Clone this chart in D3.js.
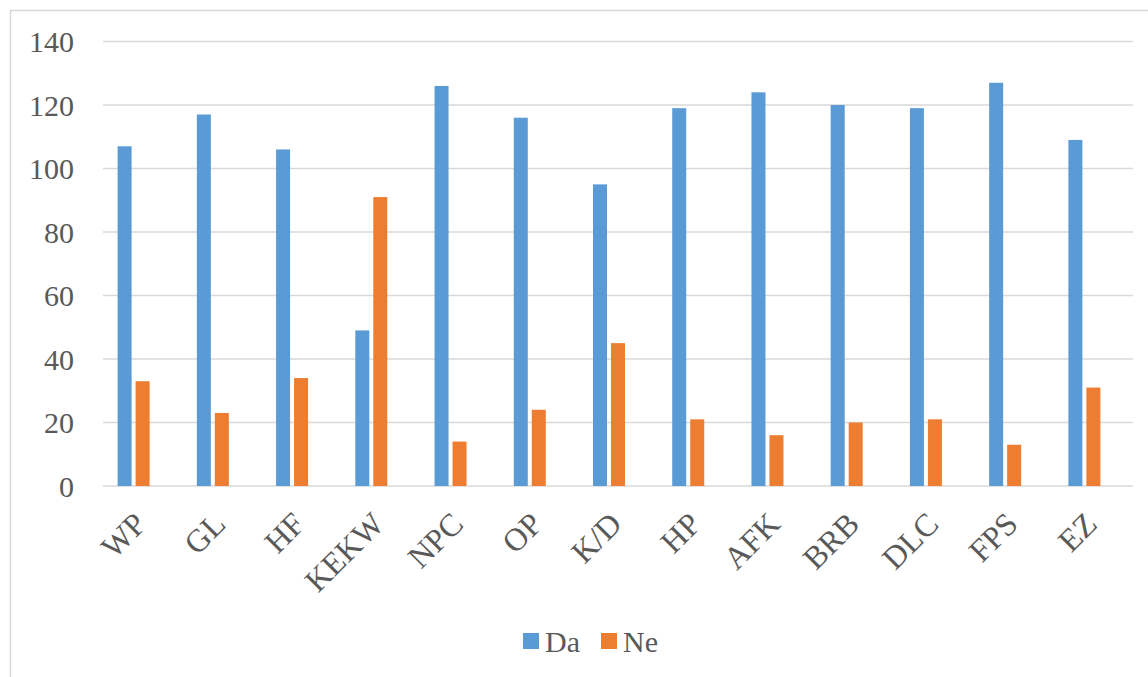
<!DOCTYPE html>
<html>
<head>
<meta charset="utf-8">
<script src="https://cdn.jsdelivr.net/npm/d3@7"></script>
<style>
  body { margin: 0; background: #fff; }
</style>
</head>
<body>
<div id="vis"></div>
<script>
var width = 1148, height = 677;
var FONT = "'Liberation Serif', 'DejaVu Serif', serif";

// Data
var categories = ["WP", "GL", "HF", "KEKW", "NPC", "OP", "K/D", "HP", "AFK", "BRB", "DLC", "FPS", "EZ"];
var seriesNames = ["Da", "Ne"];
var daValues = [107, 117, 106, 49, 126, 116, 95, 119, 124, 120, 119, 127, 109];
var neValues = [33, 23, 34, 91, 14, 24, 45, 21, 16, 20, 21, 13, 31];
var yTicks = [0, 20, 40, 60, 80, 100, 120, 140];
var colors = ["#5b9bd5", "#ed7d31"];

var rows = categories.map(function(c, i) {
    return {cat: c, values: [daValues[i], neValues[i]]};
});

var svg = d3.select("#vis").append("svg")
    .attr("width", width)
    .attr("height", height)
    .attr("font-family", FONT);

// outer chart border
svg.append("rect")
    .attr("x", 10.5).attr("y", 10.5)
    .attr("width", 1150).attr("height", 700)
    .attr("fill", "none")
    .attr("stroke", "#d9d9d9")
    .attr("stroke-width", 1.5);

var gridLeft = 103, gridRight = 1133;

var y = d3.scaleLinear()
    .domain([0, 140])
    .range([486, 41.5]);

var x = d3.scaleBand()
    .domain(categories)
    .range([94, 1124]);

var xInner = d3.scaleBand()
    .domain(seriesNames)
    .range([-16, 16])
    .paddingInner(0.222);

// gridlines
svg.append("g").selectAll("line")
    .data(yTicks)
    .enter().append("line")
    .attr("x1", gridLeft).attr("x2", gridRight)
    .attr("y1", function(d) { return y(d); })
    .attr("y2", function(d) { return y(d); })
    .attr("stroke", "#d9d9d9")
    .attr("stroke-width", 1.5);

// y tick labels
svg.append("g").selectAll("text")
    .data(yTicks)
    .enter().append("text")
    .attr("x", 74)
    .attr("y", function(d) { return y(d); })
    .attr("dy", "0.35em")
    .attr("text-anchor", "end")
    .attr("font-family", FONT)
    .attr("font-size", 30)
    .attr("fill", "#595959")
    .text(function(d) { return d; });

// bars
var groups = svg.append("g").selectAll("g")
    .data(rows)
    .enter().append("g")
    .attr("transform", function(d) {
        return "translate(" + (x(d.cat) + x.bandwidth() / 2) + ",0)";
    });

groups.selectAll("rect")
    .data(function(d) { return d.values.map(function(v, i) { return {name: seriesNames[i], value: v, i: i}; }); })
    .enter().append("rect")
    .attr("x", function(d) { return xInner(d.name); })
    .attr("width", xInner.bandwidth())
    .attr("y", function(d) { return y(d.value); })
    .attr("height", function(d) { return y(0) - y(d.value); })
    .attr("fill", function(d) { return colors[d.i]; });

// x labels rotated
svg.append("g").selectAll("text")
    .data(categories)
    .enter().append("text")
    .attr("text-anchor", "end")
    .attr("transform", function(d) {
        var cx = x(d) + x.bandwidth() / 2 + 14.5;
        return "translate(" + cx + ",526) rotate(-45)";
    })
    .attr("font-family", FONT)
    .attr("font-size", 32)
    .attr("fill", "#595959")
    .text(function(d) { return d; });

// legend
var legend = svg.append("g").attr("class", "legend");
var legendX = [523, 601];
seriesNames.forEach(function(name, i) {
    legend.append("rect")
        .attr("x", legendX[i]).attr("y", 633)
        .attr("width", 16).attr("height", 16)
        .attr("fill", colors[i]);
    legend.append("text")
        .attr("x", legendX[i] + 22)
        .attr("y", 641)
        .attr("dy", "0.35em")
        .attr("font-family", FONT)
        .attr("font-size", 30)
        .attr("fill", "#595959")
        .text(name);
});
</script>
</body>
</html>
